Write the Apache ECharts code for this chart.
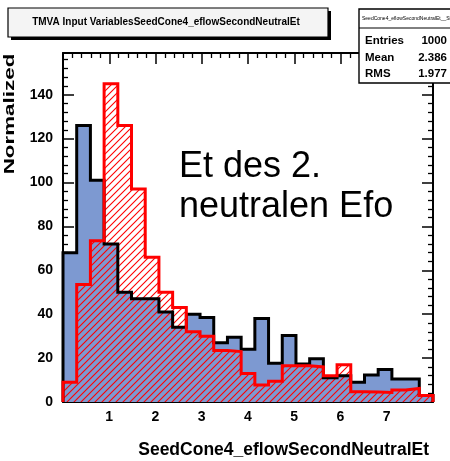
<!DOCTYPE html>
<html>
<head>
<meta charset="utf-8">
<script src="https://cdn.jsdelivr.net/npm/echarts@6/dist/echarts.min.js"></script>
<style>
html,body{margin:0;padding:0;background:#fff;}
#main{width:450px;height:461px;}
</style>
</head>
<body>
<div id="main"></div>
<script>
// ---- data ----
var xMin = 0, xMax = 8;
var signalValues = [68,126,101,72,50,47,47,41,34,40,38.5,27,29.5,24,38,17.6,30.3,17.3,19.7,11,12,9,12.3,14.8,10.5,10.5,3];
var backgroundValues = [9,53.5,73.5,145,126,97,66,50,43,32,30,23.5,23,13,7.8,9.5,16.5,16.5,16,12,17,4.7,4.5,4.3,5.5,6.2,3];
var xTickLabels = ['1','2','3','4','5','6','7'];
var titleText = 'TMVA Input VariablesSeedCone4_eflowSecondNeutralEt';
var xTitle = 'SeedCone4_eflowSecondNeutralEt';
var yTitle = 'Normalized';
var statsHeader = 'SeedCone4_eflowSecondNeutralEt__Signal';
var statsRows = [['Entries','1000'],['Mean','2.386'],['RMS','1.977']];
var noteText = 'Et des 2.\nneutralen Efo';

// build histogram step outline (corner points) from bin values
function stepPoints(vals){
  var w = (xMax - xMin) / vals.length;
  var pts = [[xMin, 0]];
  for (var i = 0; i < vals.length; i++) {
    pts.push([xMin + i*w, vals[i]]);
    pts.push([xMin + (i+1)*w, vals[i]]);
  }
  pts.push([xMax, 0]);
  return pts;
}

// hatch pattern
var tile = 7;
var cv = document.createElement('canvas');
cv.width = tile; cv.height = tile;
var cx = cv.getContext('2d');
cx.strokeStyle = '#ff0000';
cx.lineWidth = 1.1;
cx.beginPath();
cx.moveTo(-1, tile+1); cx.lineTo(tile+1, -1);
cx.moveTo(-2, 2); cx.lineTo(2, -2);
cx.moveTo(tile-2, tile+2); cx.lineTo(tile+2, tile-2);
cx.stroke();
var hatch = {image: cv, repeat: 'repeat'};

var FONT = '"Liberation Sans", Arial, Helvetica, sans-serif';
var chart = echarts.init(document.getElementById('main'), null, {renderer:'canvas'});

var tickStyle = {show:true, inside:true, length:11, lineStyle:{color:'#000', width:1.5}};
var minorStyle = {show:true, splitNumber:5, length:5, lineStyle:{color:'#000', width:1.3}};
var lineAx = {show:true, onZero:false, lineStyle:{color:'#000', width:2}};

var option = {
  animation:false,
  backgroundColor:'#fff',
  grid:{left:63, top:53, width:370, height:349, show:false},
  xAxis:[
    {type:'value', min:xMin, max:xMax, interval:1, position:'bottom',
     axisLine:lineAx, axisTick:tickStyle, minorTick:minorStyle, splitLine:{show:false},
     axisLabel:{show:true, margin:8, color:'#000', fontFamily:FONT, fontWeight:'bold', fontSize:14,
       showMinLabel:false, showMaxLabel:false,
       formatter:function(v){ var i = xTickLabels.indexOf(String(v)); return i>=0 ? xTickLabels[i] : ''; }}},
    {type:'value', min:xMin, max:xMax, interval:1, position:'top',
     axisLine:lineAx, axisTick:tickStyle, minorTick:minorStyle, splitLine:{show:false},
     axisLabel:{show:false}}
  ],
  yAxis:[
    {type:'value', min:0, max:159, interval:20, position:'left',
     axisLine:lineAx, axisTick:tickStyle, minorTick:minorStyle, splitLine:{show:false},
     axisLabel:{show:true, margin:10, color:'#000', fontFamily:FONT, fontWeight:'bold', fontSize:14,
       showMaxLabel:false}},
    {type:'value', min:0, max:159, interval:20, position:'right',
     axisLine:lineAx, axisTick:tickStyle, minorTick:minorStyle, splitLine:{show:false},
     axisLabel:{show:false}}
  ],
  series:[
    {type:'line', data:stepPoints(signalValues), showSymbol:false, symbol:'none',
     lineStyle:{width:0, opacity:0}, areaStyle:{color:'#7d99d1', opacity:1, origin:'start'}, z:1, silent:true},
    {type:'line', data:stepPoints(backgroundValues), showSymbol:false, symbol:'none',
     lineStyle:{width:0, opacity:0}, areaStyle:{color:hatch, opacity:1, origin:'start'}, z:2, silent:true},
    {type:'line', data:stepPoints(signalValues), showSymbol:false, symbol:'none',
     lineStyle:{width:3, color:'#000', join:'miter'}, z:3, silent:true},
    {type:'line', data:stepPoints(backgroundValues), showSymbol:false, symbol:'none',
     lineStyle:{width:3, color:'#ff0000', join:'miter'}, z:4, silent:true}
  ],
  graphic:[
    // title box with shadow
    {type:'rect', shape:{x:11, y:11, width:320, height:29}, style:{fill:'#000'}, z:10},
    {type:'rect', shape:{x:8, y:8, width:320, height:29}, style:{fill:'#f4f4f4', stroke:'#000', lineWidth:1.2}, z:11},
    {type:'text', x:166, y:22.5, style:{text:titleText, fontFamily:FONT, fontWeight:'bold', fontSize:10,
       fill:'#000', align:'center', verticalAlign:'middle'}, z:12},
    // stats box
    {type:'rect', shape:{x:359, y:9, width:100, height:74}, style:{fill:'#fff', stroke:'#000', lineWidth:1.4}, z:10},
    {type:'line', shape:{x1:359, y1:28, x2:459, y2:28}, style:{stroke:'#000', lineWidth:1}, z:11},
    {type:'text', x:362, y:18.5, style:{text:statsHeader, fontFamily:FONT, fontSize:5, fill:'#000', verticalAlign:'middle'}, z:12},
    {type:'text', x:365, y:41, style:{text:statsRows[0][0], fontFamily:FONT, fontWeight:'bold', fontSize:11.5, fill:'#000', verticalAlign:'middle'}, z:12},
    {type:'text', x:447, y:41, style:{text:statsRows[0][1], fontFamily:FONT, fontWeight:'bold', fontSize:11.5, fill:'#000', align:'right', verticalAlign:'middle'}, z:12},
    {type:'text', x:365, y:57.5, style:{text:statsRows[1][0], fontFamily:FONT, fontWeight:'bold', fontSize:11.5, fill:'#000', verticalAlign:'middle'}, z:12},
    {type:'text', x:447, y:57.5, style:{text:statsRows[1][1], fontFamily:FONT, fontWeight:'bold', fontSize:11.5, fill:'#000', align:'right', verticalAlign:'middle'}, z:12},
    {type:'text', x:365, y:74, style:{text:statsRows[2][0], fontFamily:FONT, fontWeight:'bold', fontSize:11.5, fill:'#000', verticalAlign:'middle'}, z:12},
    {type:'text', x:447, y:74, style:{text:statsRows[2][1], fontFamily:FONT, fontWeight:'bold', fontSize:11.5, fill:'#000', align:'right', verticalAlign:'middle'}, z:12},
    // axis titles
    {type:'text', x:10, y:114, rotation:Math.PI/2, scaleX:1.6, scaleY:1,
     style:{text:yTitle, fontFamily:FONT, fontWeight:'bold', fontSize:14,
       fill:'#000', align:'center', verticalAlign:'middle'}, z:12},
    {type:'text', x:429, y:450, style:{text:xTitle, fontFamily:FONT, fontWeight:'bold', fontSize:17.5,
       fill:'#000', align:'right', verticalAlign:'middle'}, z:12},
    // annotation
    {type:'text', x:179, y:147, style:{text:noteText, fontFamily:FONT, fontSize:36, lineHeight:40,
       fill:'#000', align:'left', verticalAlign:'top'}, z:12}
  ]
};
chart.setOption(option);
</script>
</body>
</html>
